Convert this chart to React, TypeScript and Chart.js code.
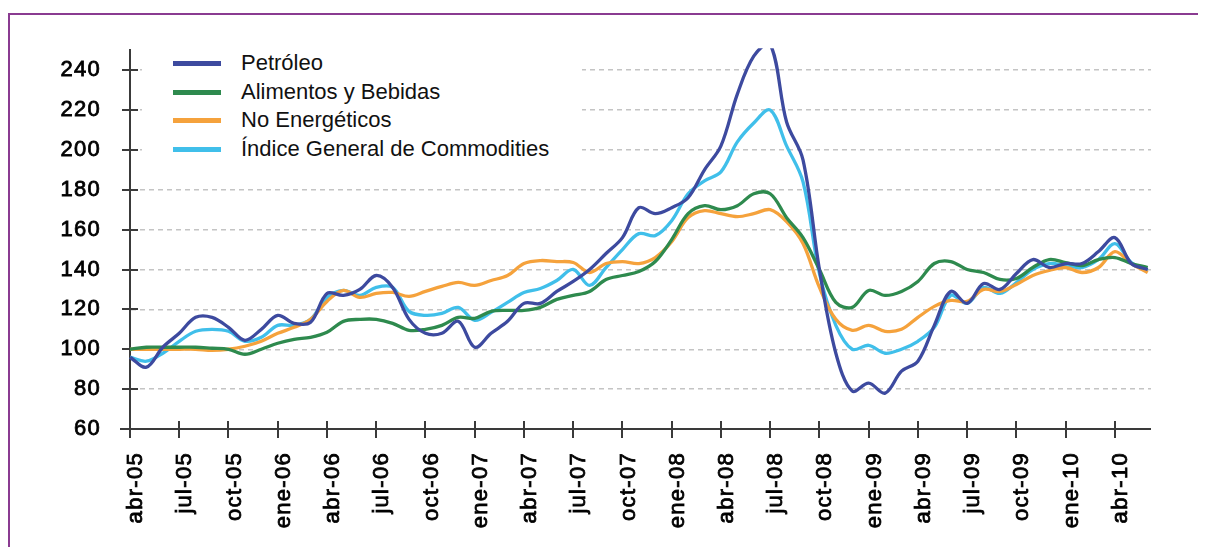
import React, { useEffect, useRef } from "react";
import { Chart, registerables } from "chart.js";

Chart.register(...registerables);

const months: string[] = [
  "abr-05", "may-05", "jun-05", "jul-05", "ago-05", "sep-05", "oct-05", "nov-05", "dic-05",
  "ene-06", "feb-06", "mar-06", "abr-06", "may-06", "jun-06", "jul-06", "ago-06", "sep-06", "oct-06", "nov-06", "dic-06",
  "ene-07", "feb-07", "mar-07", "abr-07", "may-07", "jun-07", "jul-07", "ago-07", "sep-07", "oct-07", "nov-07", "dic-07",
  "ene-08", "feb-08", "mar-08", "abr-08", "may-08", "jun-08", "jul-08", "ago-08", "sep-08", "oct-08", "nov-08", "dic-08",
  "ene-09", "feb-09", "mar-09", "abr-09", "may-09", "jun-09", "jul-09", "ago-09", "sep-09", "oct-09", "nov-09", "dic-09",
  "ene-10", "feb-10", "mar-10", "abr-10", "may-10", "jun-10",
];

const petroleo: number[] = [
  96, 91, 101, 108, 116, 116, 111, 104.5, 110,
  117, 113, 113.5, 128, 127, 130, 137, 131, 115, 108, 108, 114,
  101, 108, 114, 123, 123, 129, 134, 140, 148, 156, 171, 168,
  171, 176, 190, 202, 228, 247, 253, 214, 195, 140, 98, 79,
  83, 78, 89, 94, 112, 129, 123, 133, 130, 138, 145, 141,
  143, 143, 149, 156, 143, 140,
];

const alimentos: number[] = [
  100, 101, 101, 101, 101, 100.5, 100, 97.5, 100,
  103, 105, 106, 108.5, 114, 115, 115, 113, 109.5, 110, 112, 116,
  115.5, 119, 119.5, 119.5, 121, 125, 127, 129, 135, 137, 139, 144,
  155, 168, 172, 170, 172, 178, 178, 166, 156, 140, 123.5, 121,
  129.5, 127, 129, 134, 143, 144, 140, 138.5, 135, 135.5, 141, 145,
  143.5, 142, 145, 146, 143, 141,
];

const noEnergeticos: number[] = [
  100, 100, 100, 100, 100, 99.5, 100, 101.5, 104,
  108, 111, 115, 124, 129.5, 126, 128, 128.5, 126.5, 129, 131.5, 133.5,
  132, 134.5, 137, 143, 144.5, 144, 143.5, 138.5, 143, 144, 143, 146,
  154, 166, 169.5, 168, 166.5, 168, 170, 164, 153, 131, 115, 109.5,
  112, 109, 110, 116, 121.5, 124.5, 124, 130, 129, 132.5, 137, 139.5,
  141, 138.5, 141, 149, 143, 138.5,
];

const indiceGeneral: number[] = [
  96, 94, 98, 104, 109, 110, 109, 104, 106,
  112, 112, 115, 126, 129.5, 127, 131, 131, 119, 117, 118, 121,
  114.5, 118.5, 123.5, 128.5, 130.5, 134.5, 140, 132, 141, 150, 158, 157,
  164.5, 178, 184.5, 189, 204, 213.5, 220, 202, 184, 138, 112, 100,
  102, 98, 100, 104, 111, 127, 123, 131, 128, 133.5, 140, 143,
  142, 141, 145, 153, 143.5, 139.5,
];

const seriesNames: string[] = [
  "Petróleo",
  "Alimentos y Bebidas",
  "No Energéticos",
  "Índice General de Commodities",
];
const seriesColors: string[] = ["#3d4a9f", "#2e8a4e", "#f5a23c", "#40bfea"];

const FONT = "'Liberation Sans', Arial, Helvetica, sans-serif";

const spacing = {
  id: "spacing",
  beforeDraw(chart: any) {
    try {
      chart.ctx.letterSpacing = "1.3px";
    } catch (e) {}
  },
};

const crossTicks = {
  id: "crossTicks",
  beforeDatasetsDraw(chart: any) {
    const { ctx, chartArea, scales } = chart;
    const xs = scales.x;
    const ys = scales.y;
    ctx.save();
    ctx.strokeStyle = "#3a3a3a";
    ctx.lineWidth = 2;
    ctx.setLineDash([]);
    ctx.beginPath();
    ys.ticks.forEach((t: any) => {
      const py = Math.round(ys.getPixelForValue(t.value));
      ctx.moveTo(chartArea.left - 8, py);
      ctx.lineTo(chartArea.left + 8, py);
    });
    xs.ticks.forEach((t: any) => {
      const px = Math.round(xs.getPixelForValue(t.value));
      ctx.moveTo(px, chartArea.bottom - 8);
      ctx.lineTo(px, chartArea.bottom + 9);
    });
    ctx.moveTo(chartArea.left - 10, chartArea.bottom);
    ctx.lineTo(chartArea.right, chartArea.bottom);
    ctx.stroke();
    ctx.restore();
  },
};

export default function App() {
  const canvasRef = useRef<HTMLCanvasElement | null>(null);

  useEffect(() => {
    if (!canvasRef.current) return;
    const all = [petroleo, alimentos, noEnergeticos, indiceGeneral];
    const chart = new Chart(canvasRef.current, {
      type: "line",
      data: {
        datasets: all.map((arr, k) => ({
          label: seriesNames[k],
          data: arr.map((v, i) => ({ x: i, y: v })),
          borderColor: seriesColors[k],
          backgroundColor: seriesColors[k],
          borderWidth: 3.3,
          pointRadius: 0,
          tension: 0.35,
          fill: false,
          clip: { left: 4, top: 2, right: 4, bottom: 4 },
        })),
      },
      options: {
        responsive: false,
        animation: false,
        events: [],
        layout: { padding: { top: 40, right: 55, left: 0, bottom: 0 } },
        plugins: { legend: { display: false }, tooltip: { enabled: false } },
        scales: {
          x: {
            type: "linear",
            min: 0,
            max: 62.2,
            border: { display: false },
            grid: { display: false, drawTicks: false },
            ticks: {
              stepSize: 3,
              includeBounds: false,
              autoSkip: false,
              minRotation: 90,
              maxRotation: 90,
              padding: 23,
              labelOffset: 6,
              color: "#000",
              textStrokeColor: "#000",
              textStrokeWidth: 0.8,
              font: { family: FONT, size: 22 },
              callback: (v: any) => months[Number(v)] ?? "",
            },
            afterFit: (s: any) => {
              s.height = 118;
            },
          },
          y: {
            min: 60,
            max: 250,
            border: { display: true, color: "#3a3a3a", width: 2, dash: [5, 4] },
            grid: {
              color: "#c4c4c4",
              lineWidth: 1.5,
              drawTicks: false,
            },
            ticks: {
              stepSize: 20,
              includeBounds: false,
              padding: 29,
              color: "#000",
              textStrokeColor: "#000",
              textStrokeWidth: 0.8,
              font: { family: FONT, size: 22 },
            },
            afterFit: (s: any) => {
              s.width = 122;
            },
          },
        },
      },
      plugins: [spacing, crossTicks],
    } as any);
    return () => chart.destroy();
  }, []);

  return (
    <div style={{ position: "relative", width: 1198, height: 539, overflow: "hidden" }}>
      <div
        style={{
          position: "absolute",
          left: 0,
          top: 5,
          width: 1198,
          height: 534,
          boxSizing: "border-box",
          borderTop: "2px solid #8a3b91",
          borderLeft: "2px solid #8a3b91",
        }}
      />
      <canvas ref={canvasRef} width={1198} height={539} style={{ position: "absolute", left: 0, top: 0 }} />
      <div
        style={{
          position: "absolute",
          left: 134,
          top: 37,
          width: 440,
          height: 132,
          background: "#fff",
        }}
      >
        {seriesNames.map((name, k) => (
          <div key={name} style={{ position: "absolute", left: 0, top: 5 + k * 28.5, height: 26, width: 440 }}>
            <div
              style={{
                position: "absolute",
                left: 31,
                top: 11,
                width: 48,
                height: 5,
                background: seriesColors[k],
              }}
            />
            <div
              style={{
                position: "absolute",
                left: 99,
                top: 0,
                fontFamily: FONT,
                fontSize: 22,
                lineHeight: "26px",
                color: "#111",
                whiteSpace: "nowrap",
              }}
            >
              {name}
            </div>
          </div>
        ))}
      </div>
    </div>
  );
}
